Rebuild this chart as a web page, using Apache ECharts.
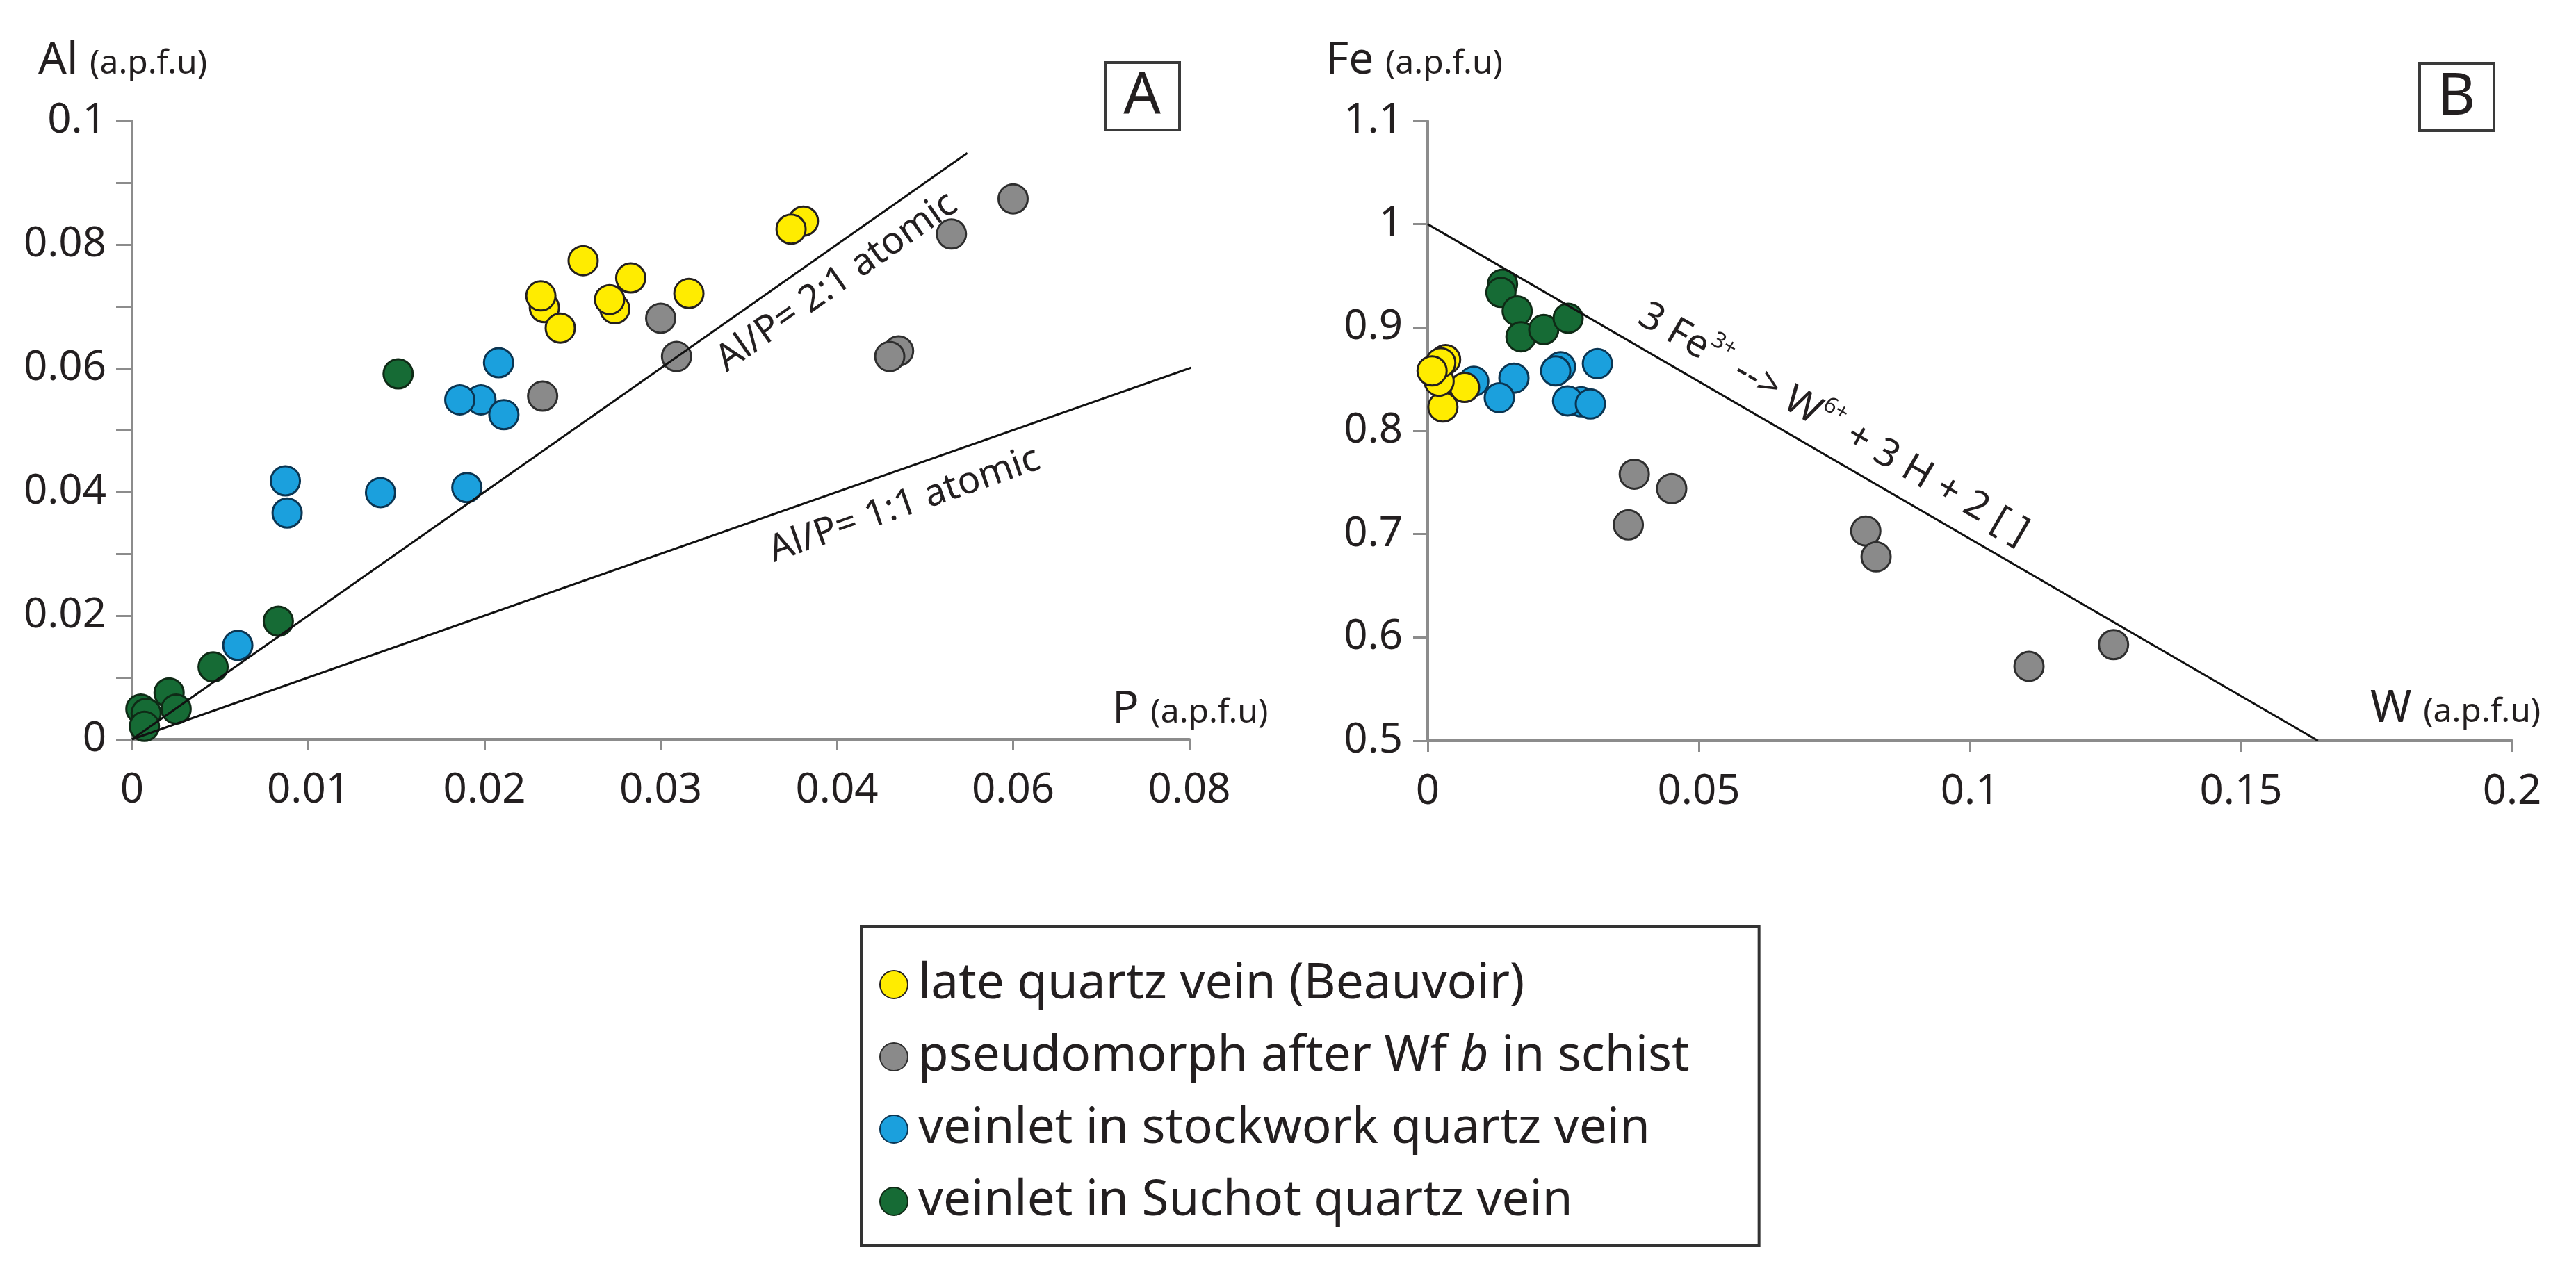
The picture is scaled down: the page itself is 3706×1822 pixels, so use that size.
<!DOCTYPE html>
<html>
<head>
<meta charset="utf-8">
<title>Al vs P and Fe vs W</title>
<script src="https://cdn.jsdelivr.net/npm/echarts@6/dist/echarts.min.js"></script>
<style>
  html, body { margin: 0; padding: 0; background: #fff; }
  #chart { width: 3706px; height: 1822px; }
</style>
</head>
<body>
<div id="chart"></div>
<script>
// panel A : [P, Al] in a.p.f.u
const lateVeinA = [[0.0234, 0.0698], [0.0232, 0.0717], [0.0243, 0.0665], [0.0256, 0.0774], [0.0274, 0.0696],
  [0.0271, 0.0711], [0.0283, 0.0746], [0.0316, 0.0721], [0.0381, 0.0838], [0.0374, 0.0825]];
const pseudoA = [[0.0233, 0.0555], [0.0300, 0.0681], [0.0309, 0.0619], [0.0435, 0.0628], [0.0430, 0.0619],
  [0.0465, 0.0817], [0.0500, 0.0874]];
const stockworkA = [[0.0060, 0.0152], [0.0087, 0.0418], [0.0088, 0.0366], [0.0141, 0.0399], [0.0190, 0.0407],
  [0.0198, 0.0549], [0.0186, 0.0549], [0.0211, 0.0525], [0.0208, 0.0609]];
const suchotA = [[0.0005, 0.0049], [0.0008, 0.0042], [0.0007, 0.0021], [0.0021, 0.0075], [0.0025, 0.0049],
  [0.0046, 0.0117], [0.0083, 0.0191], [0.0151, 0.0591]];

// panel B : [W, Fe] in a.p.f.u
const lateVeinB = [[0.0068, 0.842], [0.0028, 0.823], [0.0021, 0.848], [0.0033, 0.869], [0.0024, 0.866], [0.0008, 0.858]];
const pseudoB = [[0.0381, 0.758], [0.0450, 0.744], [0.0370, 0.709], [0.0808, 0.703], [0.0827, 0.678],
  [0.1109, 0.572], [0.1265, 0.593]];
const stockworkB = [[0.0245, 0.862], [0.0236, 0.858], [0.0085, 0.848], [0.0159, 0.851], [0.0132, 0.832],
  [0.0313, 0.865], [0.0283, 0.828], [0.0258, 0.829], [0.0300, 0.826]];
const suchotB = [[0.0138, 0.942], [0.0135, 0.934], [0.0165, 0.916], [0.0172, 0.891], [0.0214, 0.898], [0.0259, 0.909]];

// reference lines
const ratio21 = [[0, 0], [0.0474, 0.0948]];
const ratio11 = [[0, 0], [0.0615, 0.0615]];
const substitution = [[0, 1], [0.1642, 0.5]];

// tick labels as printed on the figure
const alTicks = ['0', '', '0.02', '', '0.04', '', '0.06', '', '0.08', '', '0.1'];
const pTicks = ['0', '0.01', '0.02', '0.03', '0.04', '0.06', '0.08'];
const feTicks = ['0.5', '0.6', '0.7', '0.8', '0.9', '1', '1.1'];
const wTicks = ['0', '0.05', '0.1', '0.15', '0.2'];

const groups = ['late quartz vein (Beauvoir)', 'pseudomorph after Wf b in schist',
  'veinlet in stockwork quartz vein', 'veinlet in Suchot quartz vein'];
const fills = ['#ffec00', '#8a8a8a', '#1ba0dd', '#166b35'];
const edges = ['#231f20', '#2e2e2e', '#0b3552', '#0f2a16'];

const FONT = 'Noto Sans';
const INK = '#231f20';
const AXIS = '#8c8c8c';

const chart = echarts.init(document.getElementById('chart'));

const tickFmt = (labels, min, step) => v => labels[Math.round((v - min) / step)] || '';

const axisBase = (min, max, step, labels, tickLen, margin) => ({
  type: 'value', min, max, interval: step,
  axisLine: { show: true, onZero: false, lineStyle: { color: AXIS, width: 4 } },
  axisTick: { show: true, length: tickLen, lineStyle: { color: AXIS, width: 3 } },
  splitLine: { show: false },
  axisLabel: {
    margin, fontSize: 60, fontFamily: FONT, color: INK,
    showMinLabel: true, showMaxLabel: true,
    formatter: tickFmt(labels, min, step)
  }
});

const scatter = (gi, data, idx) => ({
  type: 'scatter', name: groups[idx], data,
  xAxisIndex: gi, yAxisIndex: gi,
  symbolSize: 42,
  itemStyle: { color: fills[idx], borderColor: edges[idx], borderWidth: 3, opacity: 1 },
  emphasis: { disabled: true }
});

const refLine = (gi, data) => ({
  type: 'line', data, xAxisIndex: gi, yAxisIndex: gi,
  symbol: 'none', silent: true, clip: false,
  lineStyle: { color: '#111', width: 3 }
});

const axisTitle = (x, y, big) => ({
  type: 'text', x, y, silent: true,
  style: {
    text: '{b|' + big + ' }{s|(a.p.f.u)}',
    align: 'left', verticalAlign: 'bottom', fill: INK,
    rich: {
      b: { fontSize: 64, fontFamily: FONT, fill: INK, verticalAlign: 'bottom' },
      s: { fontSize: 48, fontFamily: FONT, fill: INK, verticalAlign: 'bottom', padding: [0, 0, 4, 0] }
    }
  }
});

const panelTag = (x, y, letter) => ({
  type: 'group', silent: true,
  children: [
    { type: 'rect', shape: { x, y, width: 107, height: 97 }, style: { fill: '#fff', stroke: '#3a3a3a', lineWidth: 4 } },
    { type: 'text', x: x + 53, y: y + 50, style: { text: letter, fontSize: 84, fontFamily: FONT, fill: INK, align: 'center', verticalAlign: 'middle' } }
  ]
});

const option = {
  backgroundColor: '#fff',
  animation: false,
  grid: [
    { left: 190, top: 174, width: 1521, height: 890 },
    { left: 2054, top: 174, width: 1560, height: 892 }
  ],
  xAxis: [
    Object.assign(axisBase(0, 0.06, 0.01, pTicks, 16, 44), { gridIndex: 0 }),
    Object.assign(axisBase(0, 0.2, 0.05, wTicks, 16, 44), { gridIndex: 1 })
  ],
  yAxis: [
    Object.assign(axisBase(0, 0.1, 0.01, alTicks, 23, 37), { gridIndex: 0 }),
    Object.assign(axisBase(0.5, 1.1, 0.1, feTicks, 21, 36), { gridIndex: 1 })
  ],
  legend: {
    data: groups,
    orient: 'vertical',
    left: 1239, top: 1333,
    icon: 'circle',
    itemWidth: 40, itemHeight: 40,
    itemGap: 32,
    padding: [48, 100, 28, 26],
    borderColor: '#333', borderWidth: 4,
    selectedMode: false,
    formatter: name => name === groups[1] ? 'pseudomorph after Wf {i|b} in schist' : name,
    textStyle: {
      fontSize: 71, fontFamily: FONT, color: INK, lineHeight: 72, padding: [0, 0, 0, 10],
      rich: { i: { fontSize: 71, fontFamily: FONT, fontStyle: 'italic', color: INK } }
    }
  },
  series: [
    refLine(0, ratio21), refLine(0, ratio11), refLine(1, substitution),
    scatter(0, pseudoA, 1), scatter(0, suchotA, 3), scatter(0, stockworkA, 2), scatter(0, lateVeinA, 0),
    scatter(1, pseudoB, 1), scatter(1, suchotB, 3), scatter(1, stockworkB, 2), scatter(1, lateVeinB, 0)
  ],
  graphic: [
    axisTitle(55, 120, 'Al'), axisTitle(1907, 120, 'Fe'),
    axisTitle(1600, 1054, 'P'), axisTitle(3410, 1053, 'W'),
    panelTag(1590, 90, 'A'), panelTag(3481, 91, 'B')
  ]
};
chart.setOption(option);

// labels written along the reference lines, placed from data coordinates
const lineLabel = (gi, line, anchor, offset, align, text, rich) => {
  const p0 = chart.convertToPixel({ gridIndex: gi }, line[0]);
  const p1 = chart.convertToPixel({ gridIndex: gi }, line[1]);
  const dx = p1[0] - p0[0], dy = p1[1] - p0[1];
  const len = Math.hypot(dx, dy);
  const a = chart.convertToPixel({ gridIndex: gi }, anchor);
  return {
    type: 'text', silent: true,
    x: a[0] - dy / len * offset,
    y: a[1] + dx / len * offset,
    rotation: -Math.atan2(dy, dx),
    style: { text, rich, fontSize: 54, fontFamily: FONT, fill: INK, align, verticalAlign: 'middle' }
  };
};

const subRich = {
  n: { fontSize: 56, fontFamily: FONT, fill: INK, lineHeight: 64, verticalAlign: 'bottom' },
  s: { fontSize: 32, fontFamily: FONT, fill: INK, lineHeight: 64, verticalAlign: 'top' }
};

chart.setOption({
  graphic: option.graphic.concat([
    lineLabel(0, ratio21, [0.039, 0.078], 44, 'center', 'Al/P= 2:1 atomic'),
    lineLabel(0, ratio11, [0.0508, 0.0508], 50, 'right', 'Al/P= 1:1 atomic'),
    lineLabel(1, substitution, [0.072, 1 - 0.072 * 0.5 / 0.1642], -48, 'center',
      '{n|3 Fe}{s|3+}{n| --> W}{s|6+}{n| + 3 H + 2 [ ]}', subRich)
  ])
});
</script>
</body>
</html>
